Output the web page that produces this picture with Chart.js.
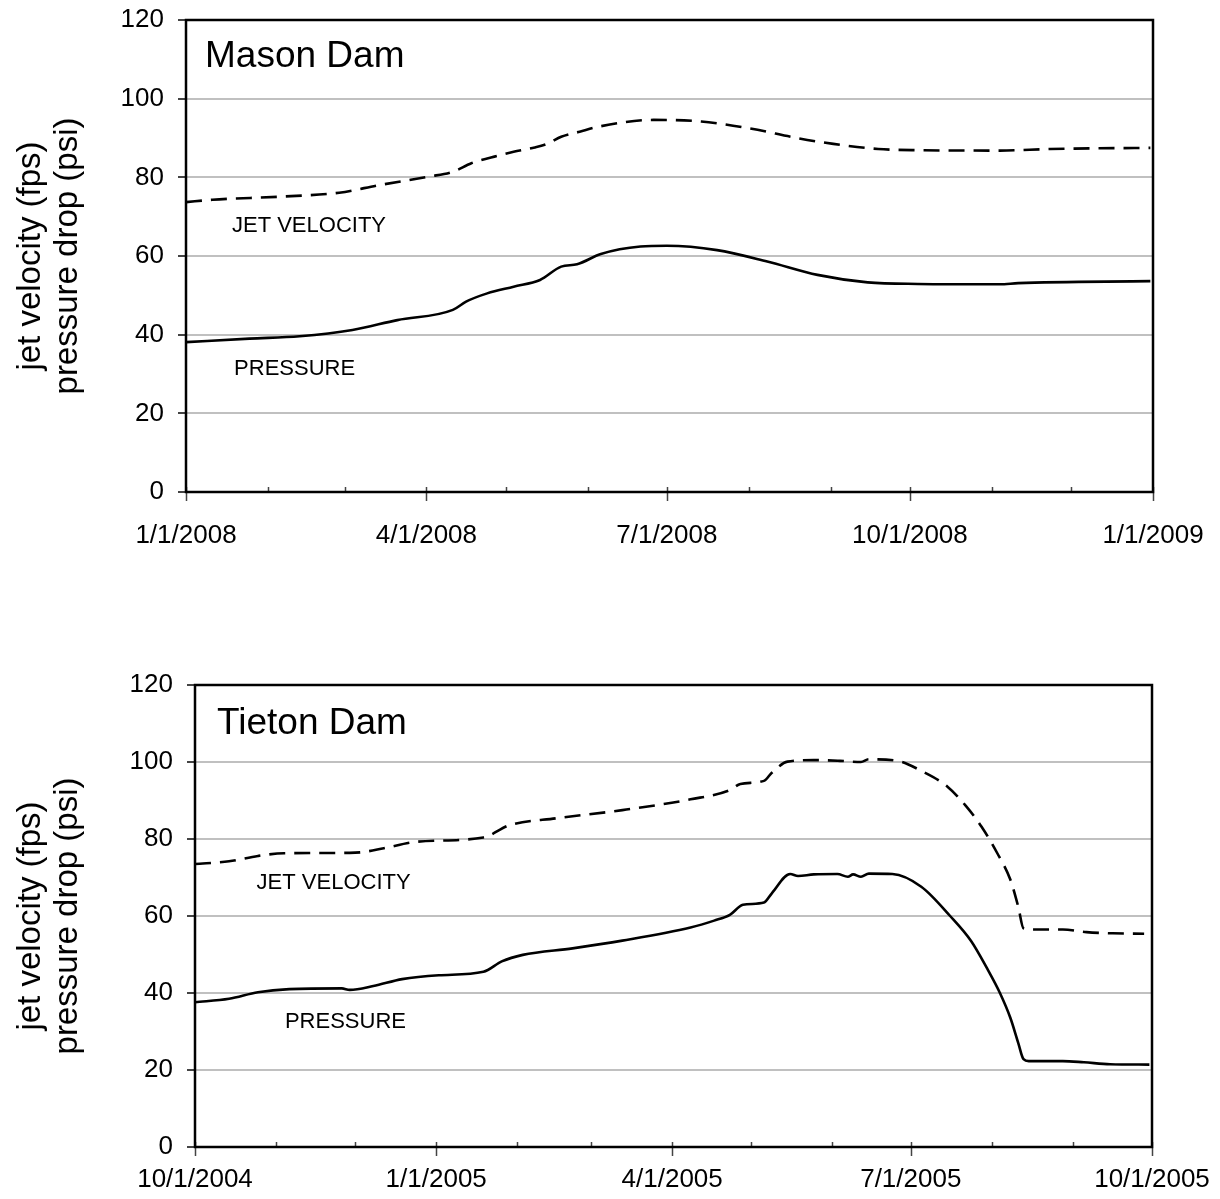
<!DOCTYPE html>
<html>
<head>
<meta charset="utf-8">
<script src="https://cdn.jsdelivr.net/npm/chart.js@4.4.1/dist/chart.umd.min.js"></script>
<style>
  body { margin: 0; background: #fff; }
  .box { position: relative; width: 1220px; }
  canvas { display: block; }
</style>
</head>
<body>
<div class="box"><canvas id="mason" width="1220" height="600"></canvas></div>
<div class="box"><canvas id="tieton" width="1220" height="599"></canvas></div>
<script>
// --- Mason Dam (days counted from 1/1/2008) ---
const masonTickDays = [0, 91, 182, 274, 366];
const masonTickLabels = ['1/1/2008', '4/1/2008', '7/1/2008', '10/1/2008', '1/1/2009'];
const masonMonthDays = [31, 60, 121, 152, 213, 244, 305, 335];

const masonVelDays = [0, 10, 36, 58, 73, 92, 101, 108, 118, 124, 132, 137, 142, 149, 157, 177, 195, 213, 232, 245, 262, 277, 308, 327, 365];
const masonVelocity = [73.7, 74.3, 75.1, 76.1, 78.0, 80.2, 81.4, 83.6, 85.5, 86.5, 87.6, 88.6, 90.3, 91.6, 93.0, 94.6, 94.2, 92.5, 89.9, 88.5, 87.2, 86.9, 86.8, 87.2, 87.5];

const masonPresDays = [0, 24, 43, 63, 80, 101, 106, 114, 124, 134, 142, 148, 157, 172, 182, 201, 220, 239, 258, 277, 308, 315, 365];
const masonPressure = [38.1, 39.0, 39.6, 41.2, 43.7, 46.3, 48.4, 50.5, 52.2, 53.9, 57.3, 57.9, 60.5, 62.4, 62.6, 61.5, 58.6, 55.2, 53.3, 52.9, 52.8, 53.1, 53.6];

// --- Tieton Dam (days counted from 10/1/2004) ---
const tietonTickDays = [0, 92, 182, 273, 365];
const tietonTickLabels = ['10/1/2004', '1/1/2005', '4/1/2005', '7/1/2005', '10/1/2005'];
const tietonMonthDays = [31, 61, 123, 151, 212, 243, 304, 335];

const tietonVelDays = [0, 13, 24, 34, 59, 64, 72, 85, 110, 120, 138, 163, 189, 204, 208, 217, 220, 226, 236, 246, 254, 257, 268, 277, 287, 294, 300, 306, 311, 314, 316, 320, 331, 340, 350, 362];
const tietonVelocity = [73.5, 74.2, 75.6, 76.3, 76.4, 76.6, 77.6, 79.3, 80.4, 83.6, 85.4, 87.5, 90.3, 92.7, 94.3, 95.1, 97.2, 100.1, 100.5, 100.3, 100.0, 100.7, 100.3, 97.7, 93.6, 88.6, 83.2, 76.3, 69.4, 62.4, 56.8, 56.5, 56.5, 55.8, 55.5, 55.4];

const tietonPresDays = [0, 13, 24, 36, 56, 59, 68, 79, 93, 110, 117, 125, 144, 163, 189, 198, 204, 209, 217, 220, 227, 230, 236, 245, 249, 251, 254, 257, 266, 277, 288, 296, 302, 307, 311, 314, 316, 318, 331, 339, 349, 364];
const tietonPressure = [37.6, 38.5, 40.2, 41.0, 41.2, 40.8, 41.8, 43.6, 44.6, 45.5, 48.2, 49.9, 51.6, 53.6, 57.0, 58.8, 60.3, 62.9, 63.5, 65.9, 70.9, 70.4, 70.8, 70.9, 70.2, 70.8, 70.2, 71.0, 70.9, 67.6, 60.0, 53.5, 46.5, 40.0, 33.5, 27.0, 22.8, 22.3, 22.3, 22.0, 21.5, 21.4];

const yTicks = [0, 20, 40, 60, 80, 100, 120];
const FONT = "'Liberation Sans', Arial, sans-serif";

function pairs(xs, ys) {
  return xs.map((d, i) => ({ x: d, y: ys[i] }));
}

// frame, monthly tick marks and the text notes inside the plot
const framePlugin = {
  id: 'frame',
  afterDraw(chart, args, opts) {
    const { ctx, chartArea: a, scales } = chart;
    const x = scales.x, y = scales.y;
    ctx.save();
    ctx.strokeStyle = '#444';
    ctx.lineWidth = 1.5;
    ctx.beginPath();
    opts.minor.forEach(d => {
      const px = Math.round(x.getPixelForValue(d)) + 0.5;
      ctx.moveTo(px, a.bottom - 5); ctx.lineTo(px, a.bottom);
    });
    opts.major.forEach(d => {
      const px = Math.round(x.getPixelForValue(d)) + 0.5;
      ctx.moveTo(px, a.bottom - 5); ctx.lineTo(px, a.bottom + 9);
    });
    ctx.stroke();

    ctx.strokeStyle = '#000';
    ctx.lineWidth = 2.5;
    ctx.strokeRect(a.left, a.top, a.right - a.left, a.bottom - a.top);

    ctx.fillStyle = '#000';
    ctx.textBaseline = 'middle';
    ctx.textAlign = 'left';
    opts.notes.forEach(n => {
      ctx.font = n.size + 'px ' + FONT;
      ctx.fillText(n.text, x.getPixelForValue(n.x), y.getPixelForValue(n.y));
    });
    ctx.restore();
  }
};

function makeChart(id, cfg) {
  const ctx = document.getElementById(id).getContext('2d');
  return new Chart(ctx, {
    type: 'line',
    data: {
      datasets: [
        {
          label: 'JET VELOCITY',
          data: pairs(cfg.velDays, cfg.velocity),
          borderColor: '#000',
          borderWidth: 2.6,
          borderDash: [16, 9],
          pointRadius: 0,
          cubicInterpolationMode: 'monotone'
        },
        {
          label: 'PRESSURE',
          data: pairs(cfg.presDays, cfg.pressure),
          borderColor: '#000',
          borderWidth: 2.6,
          pointRadius: 0,
          cubicInterpolationMode: 'monotone'
        }
      ]
    },
    options: {
      responsive: false,
      animation: false,
      events: [],
      layout: { padding: { left: 0, top: cfg.top, right: cfg.right, bottom: 0 } },
      plugins: {
        legend: { display: false },
        tooltip: { enabled: false },
        frame: { minor: cfg.minor, major: cfg.major, notes: cfg.notes }
      },
      scales: {
        x: {
          type: 'linear',
          min: cfg.major[0],
          max: cfg.major[cfg.major.length - 1],
          grid: { display: false, drawTicks: false },
          border: { display: false },
          afterBuildTicks: s => { s.ticks = cfg.major.map(v => ({ value: v })); },
          afterFit: s => {
            s.height = cfg.xHeight;
            s.paddingLeft = 0; s.paddingRight = 0;
          },
          ticks: {
            autoSkip: false,
            maxRotation: 0,
            padding: cfg.labelPad,
            color: '#000',
            font: { family: FONT, size: 26 },
            callback: (v, i) => cfg.labels[i]
          }
        },
        y: {
          min: 0,
          max: 120,
          afterBuildTicks: s => { s.ticks = yTicks.map(v => ({ value: v })); },
          afterFit: s => {
            s.width = cfg.left;
            s.paddingTop = 0; s.paddingBottom = 0;
          },
          border: { display: false },
          grid: {
            color: c => (c.tick && (c.tick.value === 0 || c.tick.value === 120)) ? 'rgba(0,0,0,0)' : '#c0c0c0',
            tickColor: '#444',
            lineWidth: 2,
            tickLength: 8
          },
          ticks: {
            padding: 14,
            color: '#000',
            font: { family: FONT, size: 26 }
          },
          title: {
            display: true,
            text: ['jet velocity (fps)', 'pressure drop (psi)'],
            color: '#000',
            font: { family: FONT, size: 33, lineHeight: 1.1 },
            padding: { top: 13, bottom: 0 }
          }
        }
      }
    },
    plugins: [framePlugin]
  });
}

makeChart('mason', {
  velDays: masonVelDays, velocity: masonVelocity,
  presDays: masonPresDays, pressure: masonPressure,
  major: masonTickDays, minor: masonMonthDays, labels: masonTickLabels,
  top: 20, right: 67, left: 186, xHeight: 108, labelPad: 28,
  notes: [
    { text: 'Mason Dam', x: 7.2, y: 110.6, size: 37 },
    { text: 'JET VELOCITY', x: 17.4, y: 67.6, size: 22 },
    { text: 'PRESSURE', x: 18.2, y: 31.3, size: 22 }
  ]
});

makeChart('tieton', {
  velDays: tietonVelDays, velocity: tietonVelocity,
  presDays: tietonPresDays, pressure: tietonPressure,
  major: tietonTickDays, minor: tietonMonthDays, labels: tietonTickLabels,
  top: 85, right: 68, left: 195, xHeight: 52, labelPad: 17,
  notes: [
    { text: 'Tieton Dam', x: 8.4, y: 109.9, size: 37 },
    { text: 'JET VELOCITY', x: 23.5, y: 68.7, size: 22 },
    { text: 'PRESSURE', x: 34.3, y: 32.5, size: 22 }
  ]
});
</script>
</body>
</html>
